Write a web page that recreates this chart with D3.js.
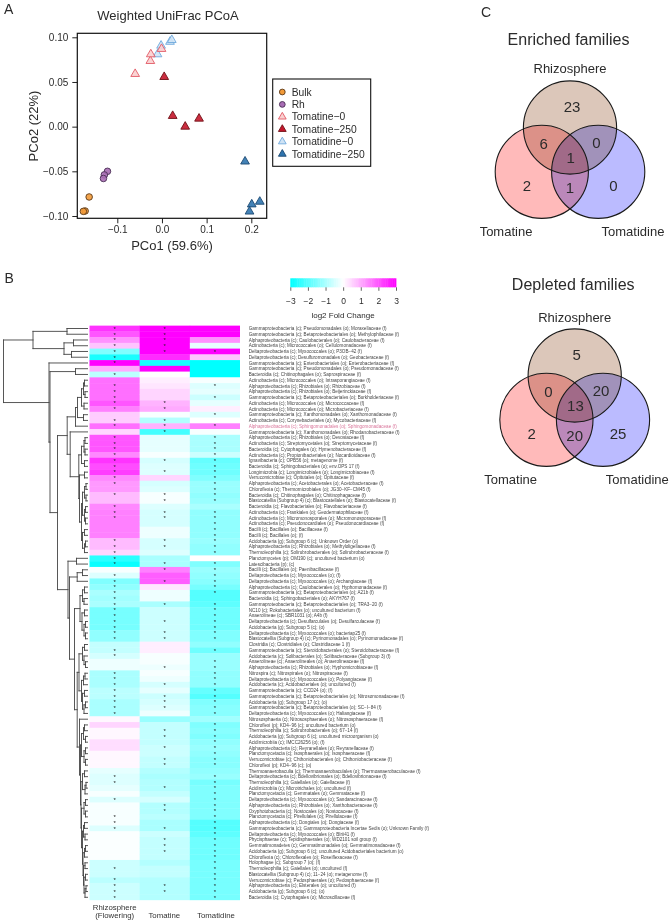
<!DOCTYPE html>
<html><head><meta charset="utf-8">
<script src="https://d3js.org/d3.v7.min.js"></script>
<style>html,body{margin:0;padding:0;background:#fff}svg{display:block;font-family:"Liberation Sans",Arial,sans-serif}</style>
</head><body><svg id="c" width="670" height="920"></svg>
<script>
// ---------- PCoA data ----------
const pcoaGroups = ["Bulk","Rh","Tomatine\u22120","Tomatine\u2212250","Tomatidine\u22120","Tomatidine\u2212250"];
const pcoaX = [[-0.163,-0.172,-0.176],[-0.122,-0.129,-0.131],[-0.060,-0.026,-0.025,-0.001],[0.005,0.024,0.052,0.083],[-0.010,-0.002,0.018,0.022],[0.186,0.201,0.219,0.196]];
const pcoaY = [[-0.0787,-0.0944,-0.0948],[-0.050,-0.054,-0.058],[0.059,0.0735,0.081,0.087],[0.0556,0.012,0.000,0.009],[0.081,0.0907,0.095,0.097],[-0.039,-0.087,-0.084,-0.095]];
const pcoaXTicks = [-0.1,0,0.1,0.2];
const pcoaYTicks = [-0.10,-0.05,0,0.05,0.10];

// ---------- heatmap data ----------
const heatColumns = ["Rhizosphere (Flowering)","Tomatine","Tomatidine"];
const rowLabels = [
"Gammaproteobacteria (c); Pseudomonadales (o); Moraxellaceae (f)",
"Gammaproteobacteria (c); Betaproteobacteriales (o); Methylophilaceae (f)",
"Alphaproteobacteria (c); Caulobacterales (o); Caulobacteraceae (f)",
"Actinobacteria (c); Micrococcales (o); Cellulomonadaceae (f)",
"Deltaproteobacteria (c); Myxococcales (o); P3OB\u221242 (f)",
"Deltaproteobacteria (c); Desulfuromonadales (o); Geobacteraceae (f)",
"Gammaproteobacteria (c); Enterobacteriales (o); Enterobacteriaceae (f)",
"Gammaproteobacteria (c); Pseudomonadales (o); Pseudomonadaceae (f)",
"Bacteroidia (c); Chitinophagales (o); Saprospiraceae (f)",
"Actinobacteria (c); Micrococcales (o); Intrasporangiaceae (f)",
"Alphaproteobacteria (c); Rhizobiales (o); Rhizobiaceae (f)",
"Alphaproteobacteria (c); Rhizobiales (o); Beijerinckiaceae (f)",
"Gammaproteobacteria (c); Betaproteobacteriales (o); Burkholderiaceae (f)",
"Actinobacteria (c); Micrococcales (o); Micrococcaceae (f)",
"Actinobacteria (c); Micrococcales (o); Microbacteriaceae (f)",
"Gammaproteobacteria (c); Xanthomonadales (o); Xanthomonadaceae (f)",
"Actinobacteria (c); Corynebacteriales (o); Mycobacteriaceae (f)",
"Alphaproteobacteria (c); Sphingomonadales (o); Sphingomonadaceae (f)",
"Gammaproteobacteria (c); Xanthomonadales (o); Rhodanobacteraceae (f)",
"Alphaproteobacteria (c); Rhizobiales (o); Devosiaceae (f)",
"Actinobacteria (c); Streptomycetales (o); Streptomycetaceae (f)",
"Bacteroidia (c); Cytophagales (o); Hymenobacteraceae (f)",
"Actinobacteria (c); Propionibacteriales (o); Nocardioidaceae (f)",
"Ignavibacteria (c); OPB56 (o); metagenome (f)",
"Bacteroidia (c); Sphingobacteriales (o); env.OPS 17 (f)",
"Longimicrobia (c); Longimicrobiales (o); Longimicrobiaceae (f)",
"Verrucomicrobiae (c); Opitutales (o); Opitutaceae (f)",
"Alphaproteobacteria (c); Acetobacterales (o); Acetobacteraceae (f)",
"Chloroflexia (c); Thermomicrobiales (o); JG30\u2212KF\u2212CM45 (f)",
"Bacteroidia (c); Chitinophagales (o); Chitinophagaceae (f)",
"Blastocatellia (Subgroup 4) (c); Blastocatellales (o); Blastocatellaceae (f)",
"Bacteroidia (c); Flavobacteriales (o); Flavobacteriaceae (f)",
"Actinobacteria (c); Frankiales (o); Geodermatophilaceae (f)",
"Actinobacteria (c); Micromonosporales (o); Micromonosporaceae (f)",
"Actinobacteria (c); Pseudonocardiales (o); Pseudonocardiaceae (f)",
"Bacilli (c); Bacillales (o); Bacillaceae (f)",
"Bacilli (c); Bacillales (o);  (f)",
"Acidobacteria (g); Subgroup 6 (c); Unknown Order (o)",
"Alphaproteobacteria (c); Rhizobiales (o); Methyloligellaceae (f)",
"Thermoleophilia (c); Solirubrobacterales (o); Solirubrobacteraceae (f)",
"Planctomycetes (p); OM190 (c); uncultured bacterium (o)",
"Latescibacteria (p);  (c)",
"Bacilli (c); Bacillales (o); Paenibacillaceae (f)",
"Deltaproteobacteria (c); Myxococcales (o);  (f)",
"Deltaproteobacteria (c); Myxococcales (o); Archangiaceae (f)",
"Alphaproteobacteria (c); Caulobacterales (o); Hyphomonadaceae (f)",
"Gammaproteobacteria (c); Betaproteobacteriales (o); A21b (f)",
"Bacteroidia (c); Sphingobacteriales (o); AKYH767 (f)",
"Gammaproteobacteria (c); Betaproteobacteriales (o); TRA3\u221220 (f)",
"NC10 (c); Rokubacteriales (o); uncultured bacterium (f)",
"Anaerolineae (c); SBR1031 (o); A4b (f)",
"Deltaproteobacteria (c); Desulfarculales (o); Desulfarculaceae (f)",
"Acidobacteria (g); Subgroup 5 (c);  (o)",
"Deltaproteobacteria (c); Myxococcales (o); bacteriap25 (f)",
"Blastocatellia (Subgroup 4) (c); Pyrinomonadales (o); Pyrinomonadaceae (f)",
"Clostridia (c); Clostridiales (o); Clostridiaceae 1 (f)",
"Gammaproteobacteria (c); Steroidobacterales (o); Steroidobacteraceae (f)",
"Acidobacteria (c); Solibacterales (o); Solibacteraceae (Subgroup 3) (f)",
"Anaerolineae (c); Anaerolineales (o); Anaerolineaceae (f)",
"Alphaproteobacteria (c); Rhizobiales (o); Hyphomicrobiaceae (f)",
"Nitrospira (c); Nitrospirales (o); Nitrospiraceae (f)",
"Deltaproteobacteria (c); Myxococcales (o); Polyangiaceae (f)",
"Acidobacteria (c); Acidobacteriales (o); uncultured (f)",
"Gammaproteobacteria (c); CCD24 (o);  (f)",
"Gammaproteobacteria (c); Betaproteobacteriales (o); Nitrosomonadaceae (f)",
"Acidobacteria (g); Subgroup 17 (c);  (o)",
"Gammaproteobacteria (c); Betaproteobacteriales (o); SC\u2212I\u221284 (f)",
"Deltaproteobacteria (c); Myxococcales (o); Haliangiaceae (f)",
"Nitrososphaeria (c); Nitrososphaerales (o); Nitrososphaeraceae (f)",
"Chloroflexi (p); KD4\u221296 (c); uncultured bacterium (o)",
"Thermoleophilia (c); Solirubrobacterales (o); 67\u221214 (f)",
"Acidobacteria (g); Subgroup 6 (c); uncultured microorganism (o)",
"Acidimicrobiia (c); IMCC26256 (o);  (f)",
"Alphaproteobacteria (c); Reyranellales (o); Reyranellaceae (f)",
"Planctomycetacia (c); Isosphaerales (o); Isosphaeraceae (f)",
"Verrucomicrobiae (c); Chthoniobacterales (o); Chthoniobacteraceae (f)",
"Chloroflexi (p); KD4\u221296 (c);  (o)",
"Thermoanaerobaculia (c); Thermoanaerobaculales (o); Thermoanaerobaculaceae (f)",
"Deltaproteobacteria (c); Bdellovibrionales (o); Bdellovibrionaceae (f)",
"Thermoleophilia (c); Gaiellales (o); Gaiellaceae (f)",
"Acidimicrobiia (c); Microtrichales (o); uncultured (f)",
"Planctomycetacia (c); Gemmatales (o); Gemmataceae (f)",
"Deltaproteobacteria (c); Myxococcales (o); Sandaracinaceae (f)",
"Alphaproteobacteria (c); Rhizobiales (o); Xanthobacteraceae (f)",
"Oxyphotobacteria (c); Nostocales (o); Nostocaceae (f)",
"Planctomycetacia (c); Pirellulales (o); Pirellulaceae (f)",
"Alphaproteobacteria (c); Dongiales (o); Dongiaceae (f)",
"Gammaproteobacteria (c); Gammaproteobacteria Incertae Sedis (o); Unknown Family (f)",
"Deltaproteobacteria (c); Myxococcales (o); BIrii41 (f)",
"Phycisphaerae (c); Tepidisphaerales (o); WD2101 soil group (f)",
"Gemmatimonadetes (c); Gemmatimonadales (o); Gemmatimonadaceae (f)",
"Acidobacteria (g); Subgroup 6 (c); uncultured Acidobacteriales bacterium (o)",
"Chloroflexia (c); Chloroflexales (o); Roseiflexaceae (f)",
"Holophagae (c); Subgroup 7 (o);  (f)",
"Thermoleophilia (c); Gaiellales (o); uncultured (f)",
"Blastocatellia (Subgroup 4) (c); 11\u221224 (o); metagenome (f)",
"Verrucomicrobiae (c); Pedosphaerales (o); Pedosphaeraceae (f)",
"Alphaproteobacteria (c); Elsterales (o); uncultured (f)",
"Acidobacteria (g); Subgroup 6 (c);  (o)",
"Bacteroidia (c); Cytophagales (o); Microscillaceae (f)"];
const highlightedRow = 18;
const rhizoValues = [2.4,2.0,1.3,0.7,-1.5,-2.7,3,1.0,-0.8,1.7,1.7,1.7,1.7,2.0,1.5,0.6,0.6,1.7,0.5,2.0,2.0,2.0,1.4,2.4,2.1,2.3,1.4,1.2,1.2,0.8,0.8,1.4,1.5,1.5,1.5,1.5,1.5,0.8,0.8,0.5,-2.5,-2.9,-0.1,-0.4,-1.5,-1.3,-1.0,-1.1,-1.0,-1.6,-1.6,-1.6,-1.6,-1.3,-1.3,-0.7,-0.7,-0.5,-0.2,-0.2,-1.0,-1.0,-1.0,-0.8,-0.8,-1.0,-1.0,-1.0,0.1,0.5,0.1,0.1,0.4,0.4,0.1,0.1,0.1,-0.3,-0.4,-0.4,-0.3,-0.1,-0.4,-0.1,-0.1,-0.1,-0.1,-0.4,-0.05,-0.05,-0.05,-0.05,-0.05,-0.6,-0.6,-0.6,-0.8,-0.6,-0.6,-0.6];
const tomatineValues = [3,3,3,3,3,2.5,-2.7,3,0,0.2,0.3,0.5,0.5,0.9,1.0,-0.1,-0.9,0.9,-2.2,-0.3,-0.3,-0.3,-0.1,-0.5,-0.4,-0.4,0.5,-0.5,-0.4,-0.1,-0.1,-0.4,-0.5,-0.5,-0.5,-0.2,-0.2,-0.5,-0.5,-0.4,-1.0,-1.0,1.5,1.9,1.9,0.3,-0.2,-0.2,-1.0,-0.6,-0.6,-0.6,-0.6,-0.6,-0.6,0.2,0.2,-0.1,-0.1,-0.2,-0.1,-0.2,-0.5,-0.3,-0.6,-0.5,-0.4,-0.2,-1.2,-0.7,-0.7,-0.7,-0.7,-0.6,-0.6,-0.7,-0.7,-0.9,-1.0,-0.9,-0.9,-0.7,-0.5,-0.9,-0.9,-0.8,-1.0,-1.0,-0.6,-0.7,-0.7,-0.7,-0.7,-0.9,-0.7,-0.7,-0.9,-0.9,-0.9,-0.9];
const tomatidineValues = [3,3,1.3,-0.3,3,0.7,-3,-3,-3,-0.1,-0.4,-0.3,-0.6,-0.3,0.2,-0.4,0,1.5,-0.1,-1.0,-1.0,-1.0,-0.6,-1.8,-1.7,-1.7,-1.5,-1.2,-1.2,-1.3,-1.2,-1.0,-1.3,-1.3,-1.3,-1.3,-1.3,-1.2,-1.3,-1.3,0,-1.5,-1.2,-1.3,-1.4,-1.6,-2.0,-2.0,-1.9,-1.7,-1.7,-1.7,-1.7,-1.5,-1.5,-1.3,-1.7,-1.2,-1.2,-1.2,-1.3,-1.3,-1.3,-1.8,-2.0,-1.5,-1.4,-1.4,-1.1,-1.5,-1.4,-1.5,-1.3,-1.2,-1.3,-1.4,-1.4,-1.3,-1.2,-1.6,-1.5,-1.5,-1.5,-1.5,-1.5,-1.5,-2.0,-2.0,-1.9,-1.7,-1.7,-1.7,-1.7,-1.6,-1.6,-1.6,-1.6,-1.6,-1.6,-1.6];
const rhizoStars = [1,2,3,4,5,6,7,9,11,12,13,14,15,17,18,20,21,22,23,24,25,26,27,28,30,32,33,34,38,39,40,41,42,44,45,46,47,48,49,50,51,52,53,54,55,57,58,61,62,63,64,65,66,67,68,79,80,83,86,87,88,95,97,98,99,100];
const tomatineStars = [1,2,3,4,5,14,15,17,18,19,24,26,30,31,33,34,38,39,42,43,45,49,52,54,55,60,63,65,66,67,71,72,74,76,77,81,84,85,88,90,91,92,98,99];
const tomatidineStars = [5,11,13,16,18,20,21,22,23,24,25,26,27,28,29,30,31,33,34,35,36,37,38,39,40,42,43,44,45,46,47,49,50,51,52,53,54,55,57,59,60,61,62,63,64,65,66,67,68,70,71,72,73,74,75,76,77,79,80,81,82,83,84,85,86,87,88,89,90,91,92,93,94,95,96,97,98,99,100];
const colorTicks = [-3,-2,-1,0,1,2,3];
// dendrogram: [merge distance, left, right]; numbers at the leaves are row numbers
const rows1017 = [10,[6,[4,[3,10,11],[2.5,12,13]],[3.5,14,15]],[4,16,17]];
const rows2040 = [8.7,[6,[3.5,[2.5,20,21],[2.5,22,23]],[3,24,25]],[8,[3,26,27],[6,[5,[3,[1.5,28,29],[1.5,30,31]],[3,[2,32,33],[2,34,35]]],[5,[3,36,37],[3,[2,38,39],40]]]]];
const rows4655 = [7.5,[5,[3,46,47],[3.5,48,49]],[5.5,[3,50,51],[3.5,[2,52,53],[2,54,55]]]];
const rows5668 = [8.5,[5,[3,56,57],[3.5,58,[2,59,60]]],[6,[4,[2.5,61,62],63],[5,[3,64,65],[3.5,[2,66,67],68]]]];
const rows69100 = [8,69,[7,[6,[4,[3,70,71],[2,72,73]],[3.5,[2,74,75],[2,76,77]]],[6.5,[5,[3,78,79],[2.5,[1.5,80,81],82]],[6,[3.5,[2,83,84],[2,85,86]],[5,[4,[3,87,88],[2.5,89,90]],[4.5,[3,[2,91,92],93],[4,[2.5,94,95],[3.5,[2,96,97],[2.5,[1.5,98,99],100]]]]]]]]];
const dendrogram = [84,
  [54.5,[20.5,1,2],[23.5,[14,3,4],[16,5,6]]],
  [38.5,7,[37.5,[12,8,9],
    [30,
      [20.3,[12,rows1017,18],[17.3,19,rows2040]],
      [19.5,[11,41,42],[18,[10.3,[5,43,44],45],[13,rows4655,[10.3,rows5668,rows69100]]]]
    ]]]];

// ---------- Venn data ----------
const vennTitles = ["Enriched families","Depleted families"];
const vennSets = ["Rhizosphere","Tomatine","Tomatidine"];
const enrichedCounts = [23,6,0,1,2,1,0];
const depletedCounts = [5,0,20,13,2,20,25];

// ---------- drawing ----------
const svg = d3.select("#c");
const ink = "#2b2b2b";
function txt(g,x,y,s,size,anchor="middle",fill=ink){
  return g.append("text").attr("x",x).attr("y",y).attr("font-size",size).attr("text-anchor",anchor).attr("fill",fill).text(s);
}
txt(svg,4,14,"A",14,"start");
txt(svg,4.5,282.5,"B",14,"start");
txt(svg,486,16.7,"C",14,"middle");

// PCoA
const px = d3.scaleLinear().domain([-0.1,0.2]).range([117.3,251.3]);
const py = d3.scaleLinear().domain([-0.10,0.10]).range([216,37.3]);
const box = {l:77.3,r:266.7,t:33.3,b:218.3};
const minus = s=>s.replace("-","\u2212");
const ga = svg.append("g");
const xa = ga.append("g").attr("transform",`translate(0,${box.b})`)
  .call(d3.axisBottom(px).tickValues(pcoaXTicks).tickSize(5).tickPadding(3).tickFormat(d=>minus(d3.format(".1f")(d))));
const ya = ga.append("g").attr("transform",`translate(${box.l},0)`)
  .call(d3.axisLeft(py).tickValues(pcoaYTicks).tickSize(5).tickPadding(4).tickFormat(d=>minus(d3.format(".2f")(d))));
[xa,ya].forEach(a=>{a.select(".domain").remove();a.selectAll("line").attr("stroke","#222");a.selectAll("text").attr("font-size",10).attr("fill",ink).attr("font-family","Liberation Sans");});
ga.append("rect").attr("x",box.l).attr("y",box.t).attr("width",box.r-box.l).attr("height",box.b-box.t).attr("fill","none").attr("stroke","#111").attr("stroke-width",1.2);
txt(ga,168,19.5,"Weighted UniFrac PCoA",13);
txt(ga,172,250,"PCo1 (59.6%)",13);
ga.append("text").attr("transform","translate(37.5,126) rotate(-90)").attr("text-anchor","middle").attr("font-size",13).attr("fill",ink).text("PCo2 (22%)");

const markerStyle = [
 {shape:"c",fill:"#F29A38",stroke:"#5b3a1a"},
 {shape:"c",fill:"#A86DB4",stroke:"#4a2f55"},
 {shape:"t",fill:"#F9CFCF",stroke:"#E25A66"},
 {shape:"t",fill:"#C5162B",stroke:"#6e1015"},
 {shape:"t",fill:"#CFE3F5",stroke:"#6FA9DC"},
 {shape:"t",fill:"#2F74AE",stroke:"#1d4a73"}];
const sym = (s,a)=> d3.symbol(s==="c"?d3.symbolCircle:d3.symbolTriangle,a)();
const plotOrder = [4,5,2,3,0,1];
plotOrder.forEach(k=>{
  const st = markerStyle[k];
  ga.append("g").selectAll("path").data(pcoaX[k].map((x,i)=>[x,pcoaY[k][i]])).join("path")
    .attr("d",sym(st.shape,st.shape==="c"?34:33))
    .attr("transform",d=>`translate(${px(d[0])},${py(d[1])})`)
    .attr("fill",st.fill).attr("fill-opacity",0.9).attr("stroke",st.stroke).attr("stroke-width",0.9);
});
// legend
const lg = svg.append("g");
lg.append("rect").attr("x",272.7).attr("y",79).attr("width",98).attr("height",87.3).attr("fill","#fff").attr("stroke","#111").attr("stroke-width",1.1);
pcoaGroups.forEach((g,i)=>{
  const y = 92+i*12.4, st = markerStyle[i];
  lg.append("path").attr("d",sym(st.shape,st.shape==="c"?26:26)).attr("transform",`translate(282.3,${y})`).attr("fill",st.fill).attr("stroke",st.stroke).attr("stroke-width",0.9);
  txt(lg,291.7,y+3.6,g,10.3,"start");
});

// Color scale & legend
const heatColor = d3.scaleLinear().domain([-3,0,3]).range(["#00FFFF","#FFFFFF","#FF00FF"]).clamp(true);
const cbX = d3.scaleLinear().domain([-3,3]).range([290.3,396]);
const cb = svg.append("g");
const steps = d3.range(-3,3,0.1);
cb.selectAll("rect").data(steps).join("rect").attr("x",d=>cbX(d)).attr("y",278.3).attr("width",cbX(3)-cbX(2.9)+0.4).attr("height",9).attr("fill",d=>heatColor(d+0.05));
const cba = cb.append("g").attr("transform","translate(0,287.3)").call(d3.axisBottom(cbX).tickValues(colorTicks).tickSize(3.5).tickPadding(7.5).tickFormat(d=>minus(String(d))));
cba.select(".domain").remove();
cba.selectAll("line").attr("stroke","#222").attr("stroke-width",0.7);
cba.selectAll("text").attr("font-size",8.5).attr("fill",ink).attr("font-family","Liberation Sans");
txt(cb,343,318,"log2 Fold Change",8,"middle");

// Heatmap
const rowScale = d3.scaleLinear().domain([1,100]).range([328.5,897.3]);
const rowH = rowScale(2)-rowScale(1);
const colScale = d3.scaleBand().domain(heatColumns).range([89.5,240]);
const colValues = [rhizoValues,tomatineValues,tomatidineValues];
const colStars = [rhizoStars,tomatineStars,tomatidineStars];
const hm = svg.append("g");
heatColumns.forEach((c,ci)=>{
  hm.append("g").selectAll("rect").data(colValues[ci]).join("rect")
    .attr("x",colScale(c)).attr("width",colScale.bandwidth()+(ci<2?0.3:0))
    .attr("y",(d,i)=>rowScale(i+1)-rowH/2).attr("height",(d,i)=>rowH+(i<99?0.4:0))
    .attr("fill",d=>heatColor(d));
});
heatColumns.forEach((c,ci)=>{
  hm.append("g").selectAll("text").data(colStars[ci]).join("text")
    .attr("x",colScale(c)+colScale.bandwidth()/2).attr("y",d=>rowScale(d)+2.3)
    .attr("text-anchor","middle").attr("font-size",6).attr("fill","#222").text("*");
});
hm.append("g").selectAll("text").data(rowLabels).join("text")
  .attr("x",248.7).attr("y",(d,i)=>rowScale(i+1)+1.6).attr("font-size",4.6)
  .attr("fill",(d,i)=>i+1===highlightedRow?"#D9749A":"#444").text(d=>d);
// column labels
txt(hm,114.7,910.3,"Rhizosphere",7.8,"middle","#333");
txt(hm,114.7,918.3,"(Flowering)",7.8,"middle","#333");
txt(hm,164.3,918.3,"Tomatine",7.8,"middle","#333");
txt(hm,216,918.3,"Tomatidine",7.8,"middle","#333");

// Dendrogram
const dx = d3.scaleLinear().domain([0,84]).range([87.5,3.5]);
const root = d3.hierarchy(dendrogram,d=>Array.isArray(d)?d.slice(1):null);
root.eachAfter(n=>{
  if(n.children){ n.dist=n.data[0]; n.ypos=d3.mean(n.children,c=>c.ypos); }
  else { n.dist=0; n.ypos=rowScale(n.data); }
});
const segs=[];
root.each(n=>{
  if(!n.children) return;
  const xn=dx(n.dist);
  segs.push([xn,n.children[0].ypos,xn,n.children[1].ypos]);
  n.children.forEach(c=>segs.push([xn,c.ypos,dx(c.dist),c.ypos]));
});
svg.append("g").selectAll("line").data(segs).join("line")
  .attr("x1",d=>d[0]).attr("y1",d=>d[1]).attr("x2",d=>d[2]).attr("y2",d=>d[3])
  .attr("stroke","#444").attr("stroke-width",0.9).attr("stroke-linecap","square");

// Venn
const vennFills = ["#DCC7BA","#FFBABA","#BBBBFF"];
function venn(titleText,counts,cx,cy,dxC,r,titleY,setY,botY,botL,botR,offs){
  const g = svg.append("g").style("isolation","isolate");
  const centers = [[cx,cy-16],[cx-dxC,cy+28.3],[cx+dxC,cy+28.3]];
  centers.forEach((c,i)=>g.append("circle").attr("cx",c[0]).attr("cy",c[1]).attr("r",r).attr("fill",vennFills[i]).style("mix-blend-mode","multiply"));
  centers.forEach(c=>g.append("circle").attr("cx",c[0]).attr("cy",c[1]).attr("r",r).attr("fill","none").attr("stroke","#1a1a1a").attr("stroke-width",1.1));
  txt(g,cx-1.5,titleY,titleText,16);
  txt(g,cx,setY,vennSets[0],13);
  txt(g,botL,botY,vennSets[1],13);
  txt(g,botR,botY,vennSets[2],13);
  counts.forEach((v,i)=>txt(g,cx+offs[i][0],cy+offs[i][1]+5.4,v,15));
}
const regionOffsets = [[2,-36.8],[-26.3,-0.2],[26.3,-0.5],[0.7,14.2],[-43,41.8],[0,44.2],[43.3,41.8]];
venn(vennTitles[0],enrichedCounts,570,143.5,28.2,46.6,44.5,73.3,236,506,633,regionOffsets);
venn(vennTitles[1],depletedCounts,574.7,391.5,28.3,46.6,289.8,321.7,484.3,510.7,637.3,regionOffsets);
</script></body></html>
